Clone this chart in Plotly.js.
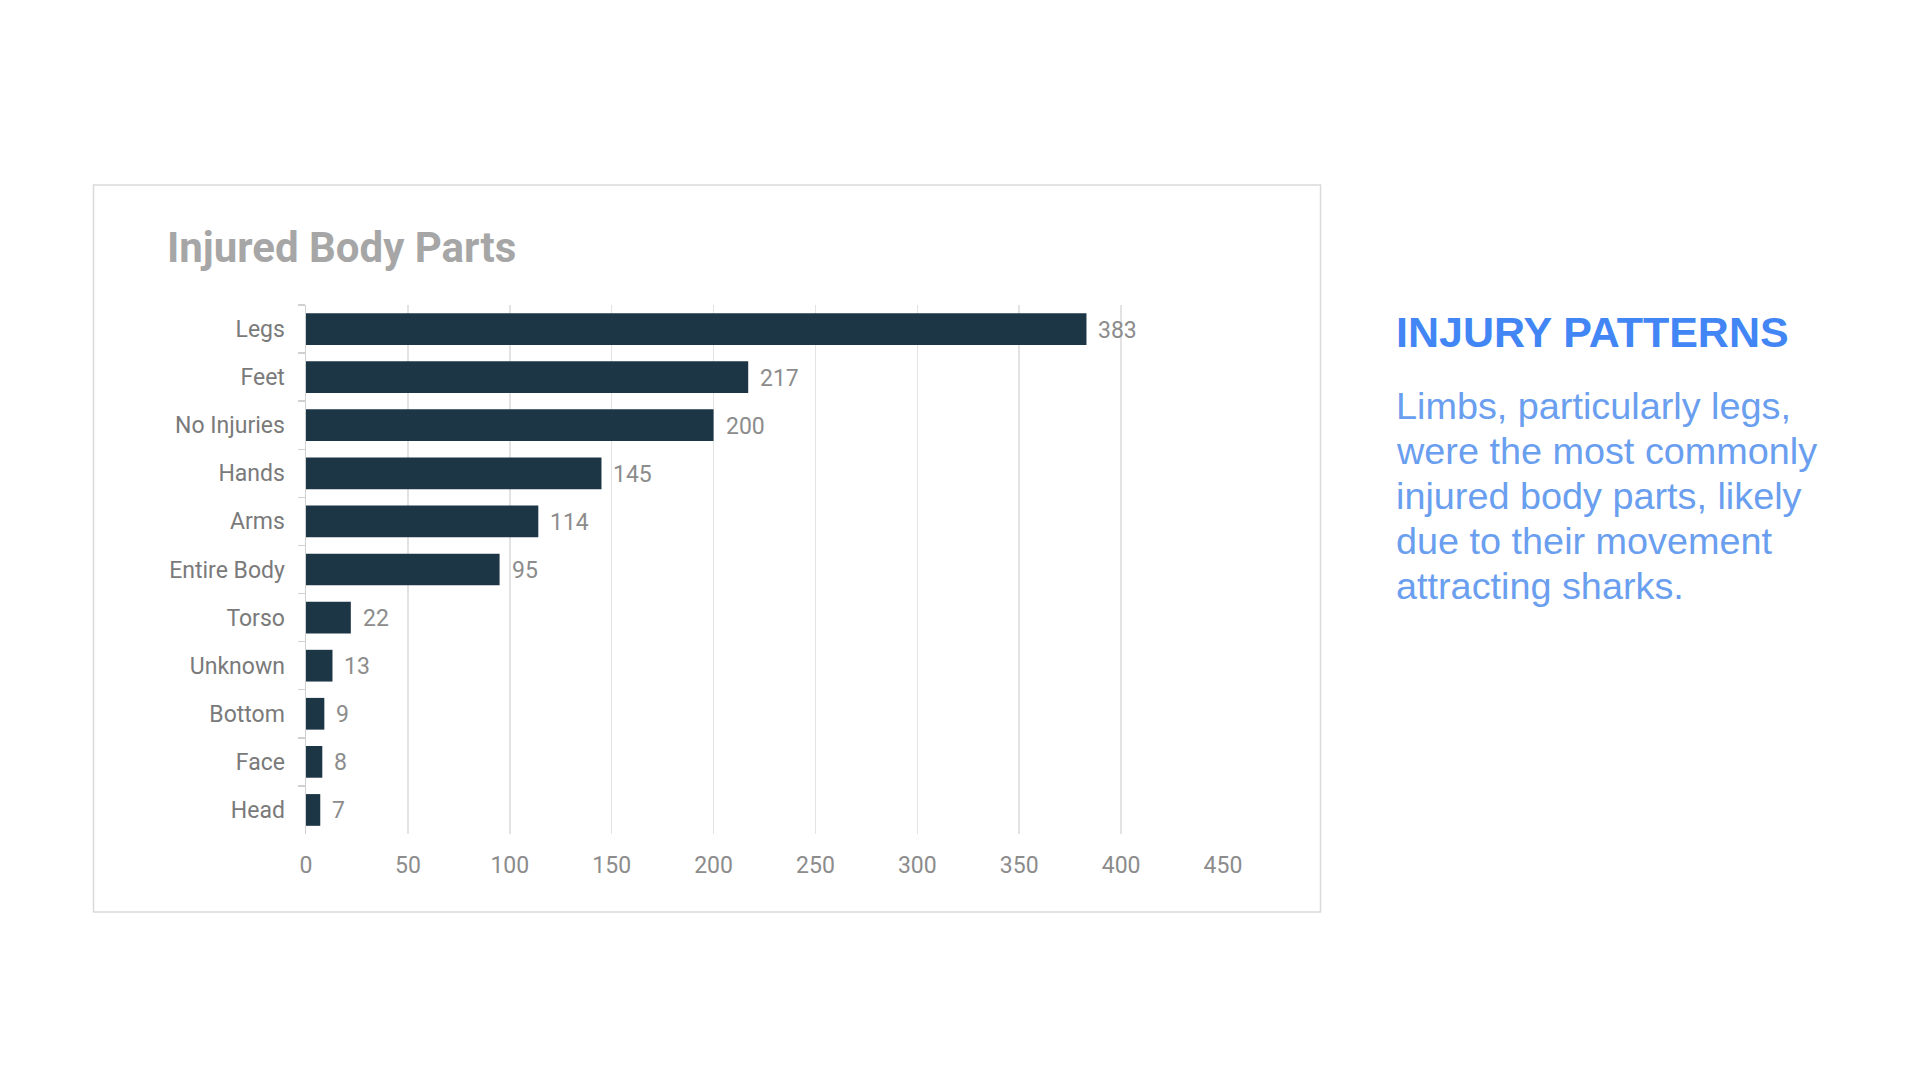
<!DOCTYPE html>
<html>
<head>
<meta charset="utf-8">
<script src="https://cdn.plot.ly/plotly-3.0.1.min.js"></script>
<style>
  html, body { margin: 0; padding: 0; background: #ffffff; }
  #chart { width: 1920px; height: 1080px; }
</style>
</head>
<body>
<div id="chart"></div>
<script>
// ---- data ----
const categories = ["Legs", "Feet", "No Injuries", "Hands", "Arms", "Entire Body", "Torso", "Unknown", "Bottom", "Face", "Head"];
const injuries = [383, 217, 200, 145, 114, 95, 22, 13, 9, 8, 7];
const xTicks = [0, 50, 100, 150, 200, 250, 300, 350, 400, 450];
const chartTitle = "Injured Body Parts";
const sideHeading = "INJURY PATTERNS";
const sideLines = [
  "Limbs, particularly legs,",
  "were the most commonly",
  "injured body parts, likely",
  "due to their movement",
  "attracting sharks."
];

// ---- layout geometry (pixels) ----
const W = 1920, H = 1080;
const plotL = 306, plotR = 1223, plotT = 305, plotB = 834;
const pw = plotR - plotL, ph = plotB - plotT;
const px = v => (v - plotL) / pw;      // pixel x -> paper x
const py = v => (plotB - v) / ph;      // pixel y -> paper y

const trace = {
  type: "bar",
  orientation: "h",
  x: injuries,
  y: categories,
  marker: { color: "#1d3646", line: { width: 0 } },
  hoverinfo: "x+y"
};

const valueLabels = categories.map((c, i) => ({
  x: injuries[i], y: c, xref: "x", yref: "y",
  text: String(injuries[i]),
  showarrow: false, xanchor: "left", yanchor: "middle",
  xshift: 10, yshift: -1,
  font: { family: "Roboto", size: 23, color: "#8c8c8c" }
}));

const sideAnnotations = [{
  x: px(1394), y: py(332), xref: "paper", yref: "paper",
  text: "<b>" + sideHeading + "</b>",
  showarrow: false, xanchor: "left", yanchor: "middle",
  font: { family: "Liberation Sans, Arial, sans-serif", size: 43, color: "#4285f4" }
}].concat(sideLines.map((t, i) => ({
  x: px(1394), y: py(406 + i * 45), xref: "paper", yref: "paper",
  text: t,
  showarrow: false, xanchor: "left", yanchor: "middle",
  font: { family: "Liberation Sans, Arial, sans-serif", size: 37.8, color: "#6a9eef" }
})));

const layout = {
  width: W, height: H,
  margin: { l: plotL, r: W - plotR, t: plotT, b: H - plotB, pad: 0 },
  paper_bgcolor: "#ffffff",
  plot_bgcolor: "#ffffff",
  showlegend: false,
  bargap: 0.34,
  font: { family: "Roboto", color: "#757575" },
  title: {
    text: "<b>" + chartTitle + "</b>",
    xref: "container", yref: "container",
    x: 167 / W, xanchor: "left",
    y: 1 - 247 / H, yanchor: "middle",
    font: { family: "Roboto", size: 42, color: "#a6a6a6" }
  },
  xaxis: {
    range: [0, 450],
    tickvals: xTicks,
    ticktext: xTicks.map(String),
    showgrid: true, gridcolor: "#e3e3e3", gridwidth: 1.5,
    zeroline: false, showline: false,
    ticks: "",
    ticklabelstandoff: 15,
    tickfont: { family: "Roboto", size: 23, color: "#8c8c8c" },
    fixedrange: true
  },
  yaxis: {
    type: "category",
    categoryorder: "array", categoryarray: categories,
    autorange: "reversed",
    showgrid: false, zeroline: false,
    showline: true, linecolor: "#d0d0d0", linewidth: 1.5,
    ticks: "outside", tickson: "boundaries", ticklen: 7, tickcolor: "#d0d0d0", tickwidth: 1.5,
    ticklabelstandoff: 15,
    tickfont: { family: "Roboto", size: 23, color: "#7a7a7a" },
    fixedrange: true
  },
  shapes: [{
    type: "rect", xref: "paper", yref: "paper",
    x0: px(93.5), x1: px(1320.5), y0: py(912), y1: py(185),
    line: { color: "#dadada", width: 1.5 },
    fillcolor: "rgba(0,0,0,0)", layer: "below"
  }],
  annotations: valueLabels.concat(sideAnnotations)
};

Plotly.newPlot("chart", [trace], layout, { displayModeBar: false, staticPlot: true });
</script>
</body>
</html>
